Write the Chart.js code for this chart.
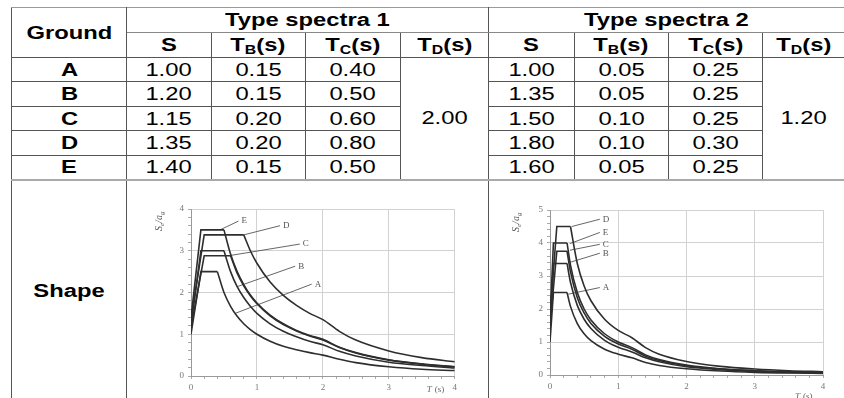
<!DOCTYPE html>
<html>
<head>
<meta charset="utf-8">
<script src="https://cdn.jsdelivr.net/npm/chart.js@4"></script>
<style>
body { margin: 0; width: 844px; height: 398px; overflow: hidden; background: #fff; font-family: "Liberation Sans", Arial, sans-serif; }
#tbl { position: absolute; left: 11px; top: 7px; border-collapse: collapse; table-layout: fixed; }
#tbl td { padding: 0; text-align: center; vertical-align: middle; border: 1px solid #555; font-size: 18px; line-height: 18px; white-space: nowrap; overflow: hidden; color: #000; }
#tbl tr.top td { border-top: 1px solid #999; }
#tbl td.b { font-weight: bold; }
#tbl td.sep { border-left: 1px solid #111; }
#tbl td.nr { border-right: none; }
.w { display: inline-block; transform: scaleX(1.32); }
sub { font-size: 12px; vertical-align: -3px; line-height: 0; }
.box { position: absolute; }
</style>
</head>
<body>
<table id="tbl">
  <colgroup>
    <col style="width:116px"><col style="width:85px"><col style="width:95px"><col style="width:96px"><col style="width:89px">
    <col style="width:86px"><col style="width:95px"><col style="width:95px"><col style="width:82px">
  </colgroup>
  <tbody id="tbody"></tbody>
</table>
<div class="box" style="left:140px; top:198px;"><canvas id="spec1" width="320" height="208"></canvas></div>
<div class="box" style="left:500px; top:198px;"><canvas id="spec2" width="330" height="207"></canvas></div>
<script>
// table values
const grounds = ['A', 'B', 'C', 'D', 'E'];
const s1 = ['1.00', '1.20', '1.15', '1.35', '1.40'];
const tb1 = ['0.15', '0.15', '0.20', '0.20', '0.15'];
const tc1 = ['0.40', '0.50', '0.60', '0.80', '0.50'];
const td1 = '2.00';
const s2 = ['1.00', '1.35', '1.50', '1.80', '1.60'];
const tb2 = ['0.05', '0.05', '0.10', '0.10', '0.05'];
const tc2 = ['0.25', '0.25', '0.25', '0.30', '0.25'];
const td2 = '1.20';

// type spectra 1 curves (T in s, Se/ag)
const t1A = [0, 0.15, 0.4, 0.5, 0.6, 0.7, 0.8, 0.9, 1.0, 1.2, 1.4, 1.6, 1.8, 2.0, 2.25, 2.5, 3.0, 3.5, 4.0];
const se1A = [1.0, 2.5, 2.5, 2.0, 1.67, 1.43, 1.25, 1.11, 1.0, 0.83, 0.71, 0.63, 0.56, 0.5, 0.4, 0.32, 0.22, 0.16, 0.13];
const t1B = [0, 0.15, 0.5, 0.6, 0.7, 0.8, 0.9, 1.0, 1.2, 1.4, 1.6, 1.8, 2.0, 2.25, 2.5, 3.0, 3.5, 4.0];
const se1B = [1.2, 3.0, 3.0, 2.5, 2.14, 1.88, 1.67, 1.5, 1.25, 1.07, 0.94, 0.83, 0.75, 0.59, 0.48, 0.33, 0.25, 0.19];
const t1C = [0, 0.2, 0.6, 0.7, 0.8, 0.9, 1.0, 1.2, 1.4, 1.6, 1.8, 2.0, 2.25, 2.5, 3.0, 3.5, 4.0];
const se1C = [1.15, 2.88, 2.88, 2.46, 2.16, 1.92, 1.73, 1.44, 1.23, 1.08, 0.96, 0.86, 0.68, 0.55, 0.38, 0.28, 0.22];
const t1D = [0, 0.2, 0.8, 0.9, 1.0, 1.2, 1.4, 1.6, 1.8, 2.0, 2.25, 2.5, 3.0, 3.5, 4.0];
const se1D = [1.35, 3.38, 3.38, 3.0, 2.7, 2.25, 1.93, 1.69, 1.5, 1.35, 1.07, 0.86, 0.6, 0.44, 0.34];
const t1E = [0, 0.15, 0.5, 0.6, 0.7, 0.8, 0.9, 1.0, 1.2, 1.4, 1.6, 1.8, 2.0, 2.25, 2.5, 3.0, 3.5, 4.0];
const se1E = [1.4, 3.5, 3.5, 2.92, 2.5, 2.19, 1.94, 1.75, 1.46, 1.25, 1.09, 0.97, 0.88, 0.69, 0.56, 0.39, 0.29, 0.22];

// type spectra 2 curves
const t2A = [0, 0.05, 0.25, 0.3, 0.4, 0.5, 0.6, 0.8, 1.0, 1.2, 1.4, 1.6, 2.0, 2.5, 3.0, 3.5, 4.0];
const se2A = [1.0, 2.5, 2.5, 2.08, 1.56, 1.25, 1.04, 0.78, 0.63, 0.52, 0.38, 0.29, 0.19, 0.12, 0.08, 0.06, 0.05];
const t2B = [0, 0.05, 0.25, 0.3, 0.4, 0.5, 0.6, 0.8, 1.0, 1.2, 1.4, 1.6, 2.0, 2.5, 3.0, 3.5, 4.0];
const se2B = [1.35, 3.38, 3.38, 2.81, 2.11, 1.69, 1.41, 1.05, 0.84, 0.7, 0.52, 0.4, 0.25, 0.16, 0.11, 0.08, 0.06];
const t2C = [0, 0.1, 0.25, 0.3, 0.4, 0.5, 0.6, 0.8, 1.0, 1.2, 1.4, 1.6, 2.0, 2.5, 3.0, 3.5, 4.0];
const se2C = [1.5, 3.75, 3.75, 3.13, 2.34, 1.88, 1.56, 1.17, 0.94, 0.78, 0.57, 0.44, 0.28, 0.18, 0.13, 0.09, 0.07];
const t2D = [0, 0.1, 0.3, 0.4, 0.5, 0.6, 0.8, 1.0, 1.2, 1.4, 1.6, 2.0, 2.5, 3.0, 3.5, 4.0];
const se2D = [1.8, 4.5, 4.5, 3.38, 2.7, 2.25, 1.69, 1.35, 1.13, 0.83, 0.63, 0.41, 0.26, 0.18, 0.13, 0.1];
const t2E = [0, 0.05, 0.25, 0.3, 0.4, 0.5, 0.6, 0.8, 1.0, 1.2, 1.4, 1.6, 2.0, 2.5, 3.0, 3.5, 4.0];
const se2E = [1.6, 4.0, 4.0, 3.33, 2.5, 2.0, 1.67, 1.25, 1.0, 0.83, 0.61, 0.47, 0.3, 0.19, 0.13, 0.1, 0.08];

// leader lines to the A..E labels: [T0, y0, T1, y1]
const leaders1 = [[0.67, 1.5, 1.83, 2.2], [0.7, 2.14, 1.58, 2.63], [0.57, 2.88, 1.65, 3.16], [0.8, 3.38, 1.35, 3.6], [0.44, 3.5, 0.72, 3.71]];
const leaders2 = [[0.27, 2.45, 0.73, 2.65], [0.27, 3.4, 0.73, 3.69], [0.29, 3.78, 0.73, 3.96], [0.32, 4.5, 0.73, 4.72], [0.29, 3.98, 0.73, 4.32]];

// build table
let html = '<tr class="top"><td rowspan="2" class="b"><span class="w">Ground</span></td>' +
  '<td colspan="4" class="b" style="border-bottom-color:#888"><span class="w">Type spectra 1</span></td>' +
  '<td colspan="4" class="b sep nr" style="border-bottom-color:#888"><span class="w">Type spectra 2</span></td></tr>';
const hd = ['S', 'T<sub>B</sub>(s)', 'T<sub>C</sub>(s)', 'T<sub>D</sub>(s)'];
html += '<tr>';
hd.forEach(h => { html += '<td class="b"><span class="w">' + h + '</span></td>'; });
hd.forEach((h, i) => { html += '<td class="b' + (i === 0 ? ' sep' : '') + (i === 3 ? ' nr' : '') + '"><span class="w">' + h + '</span></td>'; });
html += '</tr>';
const rh = [24, 25, 24, 25, 24];
for (let i = 0; i < grounds.length; i++) {
  html += '<tr style="height:' + rh[i] + 'px"><td class="b"><span class="w">' + grounds[i] + '</span></td>' +
    '<td><span class="w">' + s1[i] + '</span></td><td><span class="w">' + tb1[i] + '</span></td><td><span class="w">' + tc1[i] + '</span></td>';
  if (i === 0) html += '<td rowspan="5"><span class="w">' + td1 + '</span></td>';
  html += '<td class="sep"><span class="w">' + s2[i] + '</span></td><td><span class="w">' + tb2[i] + '</span></td><td><span class="w">' + tc2[i] + '</span></td>';
  if (i === 0) html += '<td rowspan="5" class="nr"><span class="w">' + td2 + '</span></td>';
  html += '</tr>';
}
html += '<tr style="height:222px"><td class="b" style="border-top:2px solid #aaa"><span class="w">Shape</span></td>' +
  '<td colspan="4" style="border-top:2px solid #aaa"></td><td colspan="4" class="sep nr" style="border-top:2px solid #aaa"></td></tr>';
document.getElementById('tbody').innerHTML = html;
document.querySelectorAll('#tbl tr').forEach((tr, i) => { if (i < 2) tr.style.height = '25px'; });

const serif = '"Liberation Serif", "DejaVu Serif", serif';

function curveSets(t, se) {
  const pts = t.map((x, i) => ({ x: x, y: se[i] }));
  const base = { borderColor: '#2e2e2e', borderWidth: 1.6, pointRadius: 0, fill: false };
  return [
    Object.assign({ data: pts.slice(0, 3), tension: 0 }, base),
    Object.assign({ data: pts.slice(2), cubicInterpolationMode: 'monotone' }, base)
  ];
}

function isInt(v) { return Math.abs(v - Math.round(v)) < 1e-6; }

const textPlugin = {
  id: 'texts',
  afterDatasetsDraw(chart, args, opts) {
    const c = chart.ctx, xs = chart.scales.x, ys = chart.scales.y, a = chart.chartArea;
    c.save();
    c.fillStyle = '#555';
    c.font = '9px ' + serif;
    c.textBaseline = 'middle';
    opts.leaders.forEach((l, i) => {
      c.fillText(grounds[i], xs.getPixelForValue(l[2]) + 3, ys.getPixelForValue(l[3]));
    });
    // y title  Se/ag
    c.translate(a.left - opts.yTitleOff, a.top + 12);
    c.rotate(-Math.PI / 2);
    c.textBaseline = 'alphabetic';
    c.textAlign = 'left';
    let x = -10;
    const parts = [['S', 10, 0], ['e', 7, 2], ['/', 10, 0], ['a', 10, 0], ['g', 7, 2]];
    parts.forEach(p => {
      c.font = 'italic ' + p[1] + 'px ' + serif;
      c.fillText(p[0], x, p[2]);
      x += c.measureText(p[0]).width;
    });
    c.restore();
    c.save();
    c.fillStyle = '#666';
    c.font = 'italic 9px ' + serif;
    c.textBaseline = 'middle';
    c.fillText('T', a.right - 28, a.bottom + opts.xTitleOff);
    c.font = '9px ' + serif;
    c.fillText('(s)', a.right - 20, a.bottom + opts.xTitleOff);
    c.restore();
  }
};

function makeChart(id, curves, leaders, yMax, yWidth, padTop, padRight, yTitleOff, xTitleOff) {
  const datasets = [];
  curves.forEach(cv => datasets.push(...curveSets(cv[0], cv[1])));
  leaders.forEach(l => datasets.push({
    data: [{ x: l[0], y: l[1] }, { x: l[2], y: l[3] }],
    borderColor: '#555', borderWidth: 0.9, pointRadius: 0, tension: 0
  }));
  const tickFont = { family: serif, size: 9 };
  return new Chart(document.getElementById(id), {
    type: 'line',
    data: { datasets: datasets },
    options: {
      responsive: false,
      animation: false,
      devicePixelRatio: 1,
      layout: { padding: { top: padTop, right: padRight, left: 0, bottom: 0 } },
      plugins: { legend: { display: false }, tooltip: { enabled: false }, texts: { leaders: leaders, yTitleOff: yTitleOff, xTitleOff: xTitleOff } },
      scales: {
        x: {
          type: 'linear', min: 0, max: 4,
          afterFit: s => { s.height = 30; },
          ticks: { stepSize: 0.2, autoSkip: false, maxRotation: 0, color: '#777', font: tickFont, padding: 3,
            callback: v => isInt(v) ? String(Math.round(v)) : '' },
          grid: { color: c => isInt(c.tick.value) && c.tick.value > 0 ? '#d2d2d2' : 'rgba(0,0,0,0)', tickColor: '#aaa', tickLength: 3 },
          border: { color: '#999' }
        },
        y: {
          min: 0, max: yMax,
          afterFit: s => { s.width = yWidth; },
          ticks: { stepSize: 0.2, autoSkip: false, color: '#777', font: tickFont, padding: 4,
            callback: v => isInt(v) ? String(Math.round(v)) : '' },
          grid: { color: c => isInt(c.tick.value) && c.tick.value > 0 ? '#d2d2d2' : 'rgba(0,0,0,0)', tickColor: '#aaa', tickLength: 3 },
          border: { color: '#999' }
        }
      }
    },
    plugins: [textPlugin]
  });
}

makeChart('spec1', [[t1A, se1A], [t1B, se1B], [t1C, se1C], [t1D, se1D], [t1E, se1E]], leaders1, 4, 51, 11, 5, 29, 14);
makeChart('spec2', [[t2A, se2A], [t2B, se2B], [t2C, se2C], [t2D, se2D], [t2E, se2E]], leaders2, 5, 50, 12, 7, 31, 22);
</script>
</body>
</html>
